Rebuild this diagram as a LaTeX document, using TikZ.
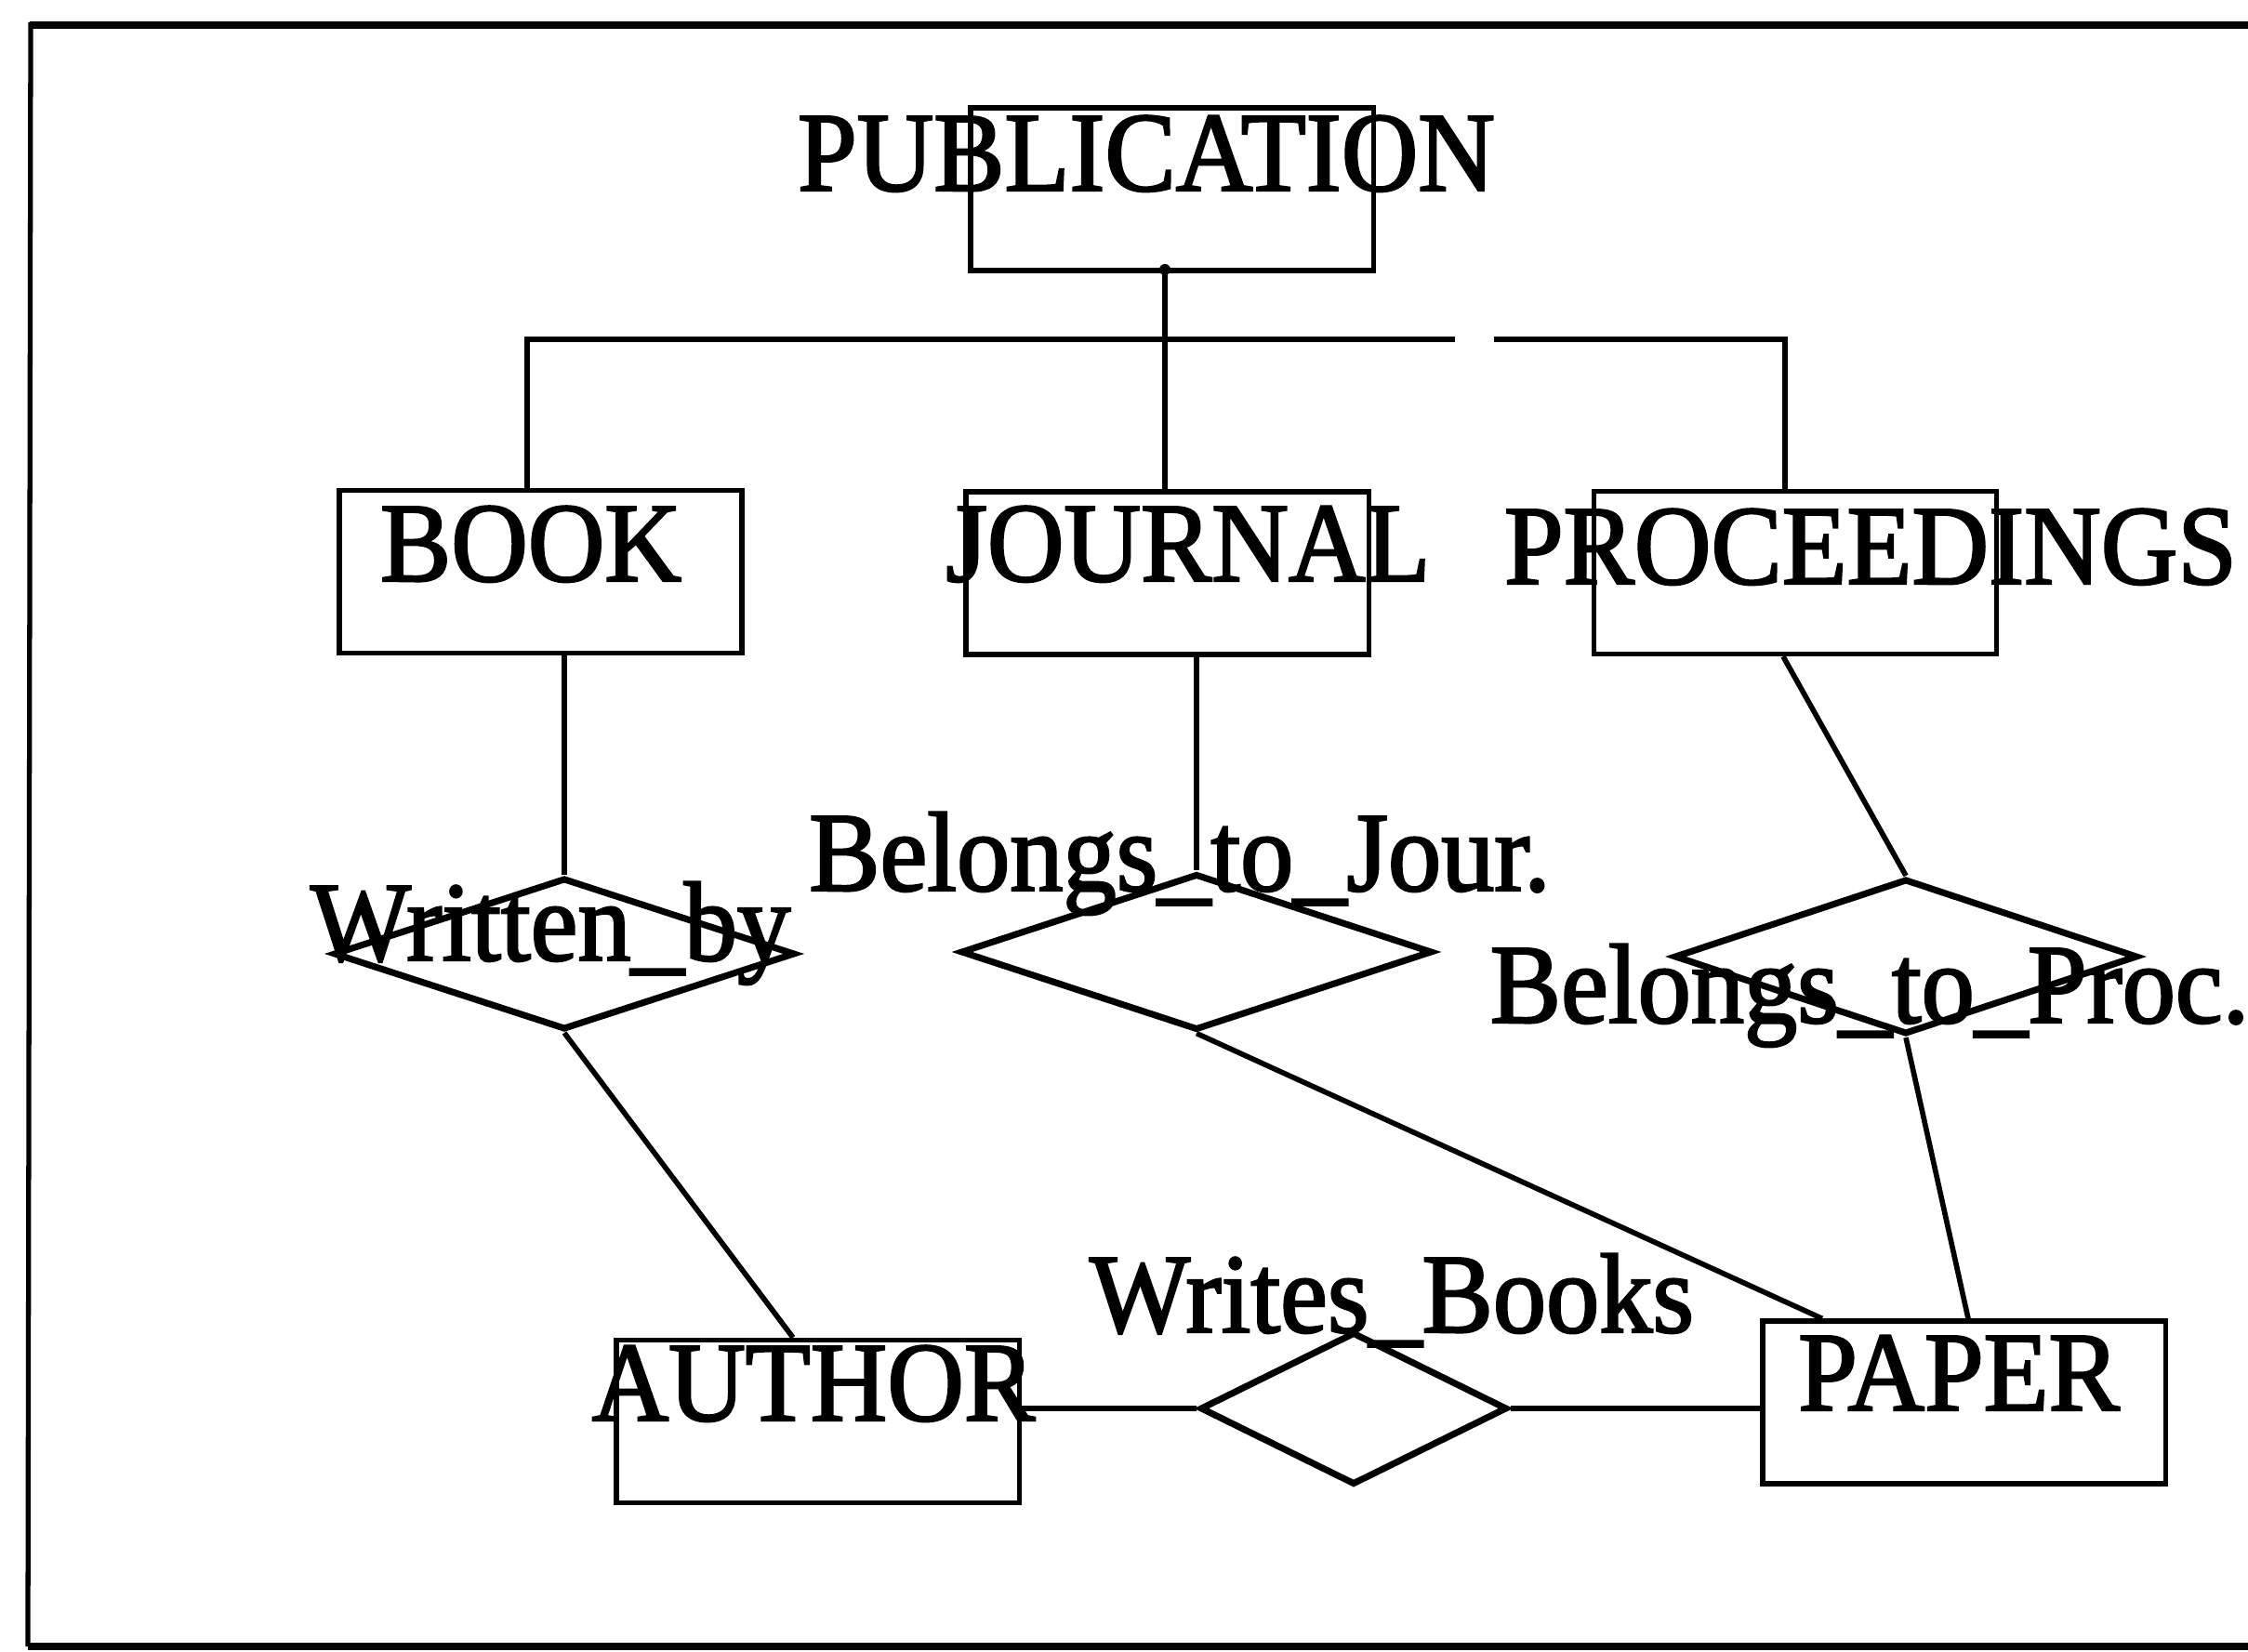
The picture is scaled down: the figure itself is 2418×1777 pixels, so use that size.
\documentclass[tikz,border=0pt]{standalone}
\usepackage{fontspec}
\setmainfont[FakeStretch=0.94, FakeBold=2]{Liberation Serif}
\usetikzlibrary{shapes.geometric}
\newcommand\erfont{\fontsize{34.6pt}{40pt}\selectfont}
\tikzset{
  entity/.style={draw, line width=1.5pt, minimum width=4.33cm, minimum height=1.75cm, inner sep=0pt},
  relation/.style={diamond, draw, line width=2pt, inner sep=0pt},
  ertext/.style={anchor=base, inner sep=0pt, font=\erfont},
  link/.style={line width=1.6pt},
  buslink/.style={line width=1.8pt},
}
\begin{document}
\begin{tikzpicture}[x=0.01cm, y=-0.01cm]
\useasboundingbox (0,0) rectangle (2418,1777);

% open page frame
\draw[line width=2.2pt] (32,27) -- (2418,27);
\draw[line width=1.5pt] (33,24) -- (30,1771);
\draw[line width=2pt] (30,1771) -- (2418,1771);

% entity boxes
\node[entity] (pub)         at (1260.5,203.5) {};
\node[entity] (book)        at (581.5,615)    {};
\node[entity] (journal)     at (1255.5,616.5) {};
\node[entity] (proceedings) at (1931,616)     {};
\node[entity] (author)      at (879.5,1529)   {};
\node[entity] (paper)       at (2112.5,1508.5){};

% entity names
\node[ertext] (pubtxt)  at (1233,205)  {PUBLICATION};
\node[ertext] (booktxt) at (571,625)   {BOOK};
\node[ertext] (jourtxt) at (1278,625)  {JOURNAL};
\node[ertext] (proctxt) at (2012,628)  {PROCEEDINGS};
\node[ertext] (authtxt) at (875,1528)  {AUTHOR};
\node[ertext] (papetxt) at (2107,1517) {PAPER};

% relationship diamonds
\node[relation, minimum width=4.96cm, minimum height=1.63cm] (wrdia) at (607,1026)  {};
\node[relation, minimum width=5.07cm, minimum height=1.68cm] (jrdia) at (1287,1024) {};
\node[relation, minimum width=4.98cm, minimum height=1.67cm] (prdia) at (2050,1029) {};
\node[relation, minimum width=3.30cm, minimum height=1.64cm] (wbdia) at (1456,1515) {};

% relationship names
\node[ertext] (wrtxt) at (592,1033)  {Written\_by};
\node[ertext] (jrtxt) at (1269,958)  {Belongs\_to\_Jour.};
\node[ertext] (prtxt) at (2011,1100) {Belongs\_to\_Proc.};
\node[ertext] (wbtxt) at (1497,1433) {Writes\_Books};

% generalisation: PUBLICATION -> BOOK, JOURNAL, PROCEEDINGS
\coordinate (split) at (1253,290);
\coordinate (busL)  at (567,365);
\coordinate (busR)  at (1920,365);
\coordinate (gapA)  at (1565,365);
\coordinate (gapB)  at (1607,365);
\fill (split) circle[radius=0.06cm];
\draw[link] (split) -- (split |- journal.north);
\draw[buslink] (book.north -| busL) -- (busL) -- (gapA);
\draw[buslink] (gapB) -- (busR) -- (busR |- proceedings.north);

% relationship links
\draw[link] (book.south -| wrdia.north) -- (wrdia.north);
\draw[link] (wrdia.south) -- ([xshift=-0.265cm]author.north);
\draw[link] (journal.south -| jrdia.north) -- (jrdia.north);
\draw[link] (jrdia.south) -- ([xshift=-1.525cm]paper.north);
\draw[link] ([xshift=-0.13cm]proceedings.south) -- (prdia.north);
\draw[link] (prdia.south) -- ([xshift=0.045cm]paper.north);
\draw[link] (author.east |- wbdia.west) -- (wbdia.west);
\draw[link] (wbdia.east) -- (wbdia.east -| paper.west);
\end{tikzpicture}
\end{document}
